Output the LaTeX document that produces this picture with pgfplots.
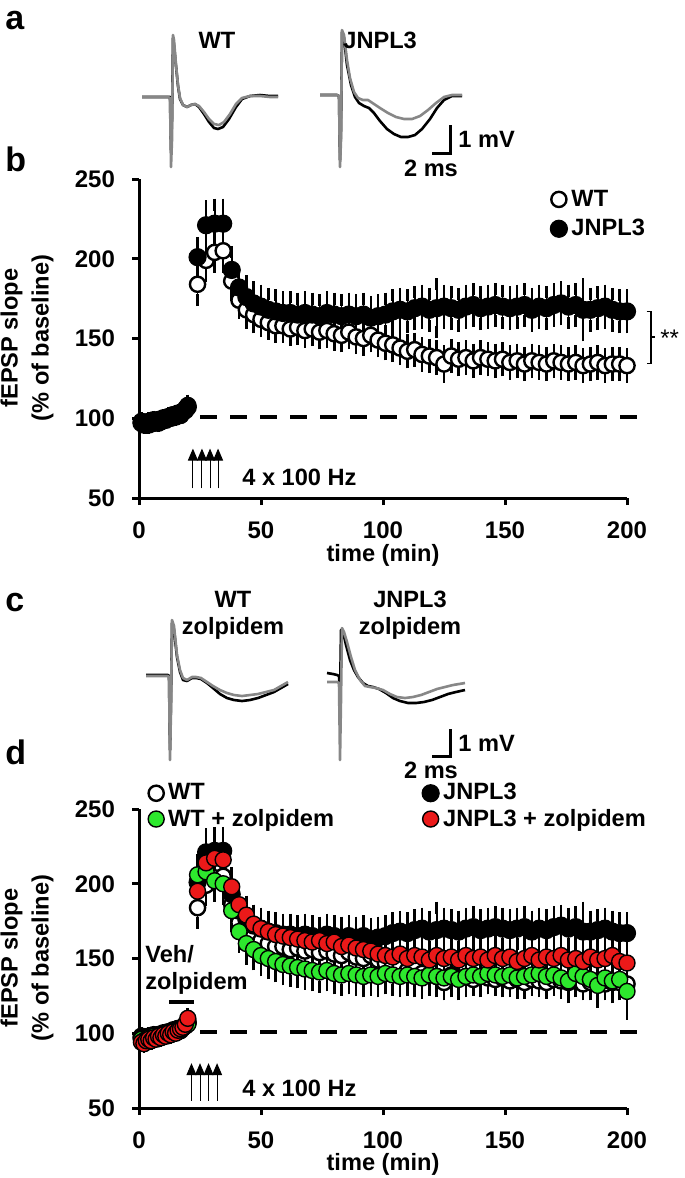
\documentclass[border=0pt]{standalone}
\usepackage{fontspec}
\setmainfont{Liberation Sans}
\usepackage{pgfplots}
\usepackage{pgfplotstable}
\pgfplotsset{compat=1.18}
\usetikzlibrary{arrows.meta}
\definecolor{trgray}{RGB}{135,135,135}
\definecolor{zgreen}{RGB}{45,232,45}
\definecolor{zred}{RGB}{235,25,25}
\newcommand{\lbl}{\fontsize{11.8}{13}\selectfont\bfseries}

% WT (time min, fEPSP % baseline, SEM)
\pgfplotstableread[row sep=\\]{
x y e\\
1 98 2\\ 2 97 2\\ 3 96 2\\ 4 98 2\\ 5 97 2\\ 6 99 2\\ 7 98 2\\ 8 97 2\\ 9 99 2\\ 10 100 2\\
11 99 2\\ 12 101 2\\ 13 100 2\\ 14 102 2\\ 15 101 2\\ 16 103 2\\ 17 102 2\\ 18 104 2\\ 19 106 3\\ 20 108 3\\
24 184 10\\ 27.5 199 10\\ 31 204 9\\ 34.5 205 10\\
38 186 9\\ 41 174 8\\ 44 168 8\\ 47 165 8\\ 50 162 7\\ 53 160 7\\ 56 158 7\\ 59 158 7\\ 62 156 7\\ 65 157 7\\
68 155 7\\ 71 156 7\\ 74 154 7\\ 77 155 7\\ 80 153 7\\ 83 152 7\\ 86 154 7\\ 89 151 7\\ 92 150 7\\ 95 152 7\\
98 149 7\\ 101 147 7\\ 104 146 7\\ 107 144 7\\ 110 142 7\\ 113 143 7\\ 116 140 7\\ 119 139 7\\ 122 138 7\\ 125 134 8\\
128 139 7\\ 131 137 7\\ 134 138 7\\ 137 136 7\\ 140 138 7\\ 143 137 7\\ 146 136 7\\ 149 137 7\\ 152 135 7\\ 155 136 7\\
158 134 7\\ 161 136 7\\ 164 135 7\\ 167 134 7\\ 170 136 7\\ 173 135 7\\ 176 134 7\\ 179 135 7\\ 182 133 7\\ 185 134 7\\
188 135 7\\ 191 133 7\\ 194 134 7\\ 197 134 7\\ 200 133 7\\
}\wt

% JNPL3
\pgfplotstableread[row sep=\\]{
x y e\\
1 97 2\\ 2 96 2\\ 3 97 2\\ 4 96 2\\ 5 98 2\\ 6 97 2\\ 7 98 2\\ 8 99 2\\ 9 98 2\\ 10 100 2\\
11 99 2\\ 12 100 2\\ 13 101 2\\ 14 102 2\\ 15 101 2\\ 16 103 2\\ 17 102 2\\ 18 104 2\\ 19 105 3\\ 20 107 3\\
24 201 9\\ 27.5 221 12\\ 31 222 12\\ 34.5 222 12\\
38 193 11\\ 41 182 10\\ 44 176 10\\ 47 172 10\\ 50 170 10\\ 53 168 10\\ 56 167 10\\ 59 166 10\\ 62 166 10\\ 65 165 10\\
68 166 10\\ 71 165 10\\ 74 164 10\\ 77 166 10\\ 80 165 10\\ 83 164 10\\ 86 165 10\\ 89 164 10\\ 92 165 10\\ 95 163 10\\
98 164 10\\ 101 165 10\\ 104 167 10\\ 107 168 10\\ 110 167 10\\ 113 169 10\\ 116 170 10\\ 119 168 10\\ 122 169 15\\ 125 170 10\\
128 169 10\\ 131 168 10\\ 134 170 10\\ 137 171 10\\ 140 169 10\\ 143 170 10\\ 146 171 10\\ 149 170 10\\ 152 169 10\\ 155 170 10\\
158 171 10\\ 161 168 10\\ 164 170 10\\ 167 169 10\\ 170 171 10\\ 173 172 10\\ 176 170 10\\ 179 171 10\\ 182 168 16\\ 185 168 10\\
188 169 10\\ 191 170 10\\ 194 168 10\\ 197 167 10\\ 200 167 10\\
}\jn

% WT + zolpidem
\pgfplotstableread[row sep=\\]{
x y e\\
1 96 2\\ 2 95 2\\ 3 96 2\\ 4 97 2\\ 5 96 2\\ 6 98 2\\ 7 97 2\\ 8 98 2\\ 9 99 2\\ 10 98 2\\
11 100 2\\ 12 99 2\\ 13 101 2\\ 14 100 2\\ 15 102 2\\ 16 101 2\\ 17 103 2\\ 18 104 2\\ 19 105 3\\ 20 106 3\\
24 206 10\\ 27.5 208 10\\ 31 202 10\\ 34.5 200 10\\
38 182 10\\ 41 168 10\\ 44 160 10\\ 47 156 10\\ 50 152 10\\ 53 150 10\\ 56 148 10\\ 59 146 10\\ 62 145 10\\ 65 144 10\\
68 143 10\\ 71 142 10\\ 74 141 10\\ 77 142 10\\ 80 140 10\\ 83 139 10\\ 86 140 10\\ 89 139 10\\ 92 138 10\\ 95 139 10\\
98 138 10\\ 101 140 10\\ 104 139 10\\ 107 138 10\\ 110 139 10\\ 113 138 10\\ 116 137 10\\ 119 139 10\\ 122 138 10\\ 125 137 10\\
128 138 10\\ 131 136 10\\ 134 138 10\\ 137 139 10\\ 140 138 10\\ 143 140 10\\ 146 139 10\\ 149 138 10\\ 152 139 10\\ 155 137 10\\
158 138 10\\ 161 139 10\\ 164 140 10\\ 167 138 10\\ 170 139 10\\ 173 137 10\\ 176 135 11\\ 179 140 10\\ 182 138 10\\ 185 136 10\\
188 132 11\\ 191 137 10\\ 194 135 11\\ 197 136 10\\ 200 128 15\\
}\wtz

% JNPL3 + zolpidem
\pgfplotstableread[row sep=\\]{
x y e\\
1 94 2\\ 2 93 2\\ 3 95 2\\ 4 96 2\\ 5 95 2\\ 6 97 2\\ 7 96 2\\ 8 98 2\\ 9 97 2\\ 10 99 2\\
11 98 2\\ 12 100 2\\ 13 99 2\\ 14 101 2\\ 15 100 2\\ 16 102 2\\ 17 103 2\\ 18 104 2\\ 19 106 3\\ 20 110 3\\
24 195 10\\ 27.5 214 10\\ 31 217 10\\ 34.5 216 10\\
38 198 9\\ 41 186 9\\ 44 179 9\\ 47 173 9\\ 50 170 9\\ 53 168 9\\ 56 166 9\\ 59 165 9\\ 62 164 9\\ 65 163 9\\
68 162 9\\ 71 161 9\\ 74 162 9\\ 77 160 9\\ 80 161 9\\ 83 158 9\\ 86 159 9\\ 89 157 9\\ 92 156 9\\ 95 155 9\\
98 153 9\\ 101 152 9\\ 104 151 9\\ 107 153 9\\ 110 150 9\\ 113 152 9\\ 116 151 9\\ 119 149 9\\ 122 152 9\\ 125 150 9\\
128 151 9\\ 131 149 9\\ 134 152 9\\ 137 150 9\\ 140 151 9\\ 143 149 9\\ 146 152 9\\ 149 150 9\\ 152 151 9\\ 155 148 9\\
158 150 9\\ 161 152 9\\ 164 149 9\\ 167 151 9\\ 170 150 9\\ 173 152 9\\ 176 149 9\\ 179 150 9\\ 182 148 9\\ 185 151 9\\
188 149 9\\ 191 150 9\\ 194 152 9\\ 197 148 9\\ 200 147 9\\
}\jnz

\tikzset{
 wtst/.style={mark=*, mark size=3.8pt, mark options={fill=white, draw=black, line width=1.2pt}},
 jnst/.style={mark=*, mark size=4.3pt, mark options={fill=black, draw=black, line width=0.5pt}},
 grst/.style={mark=*, mark size=4.0pt, mark options={fill=zgreen, draw=black, line width=0.7pt}},
 rdst/.style={mark=*, mark size=4.0pt, mark options={fill=zred, draw=black, line width=0.7pt}},
 stimarrow/.style={line width=0.5pt, -{Triangle[length=6pt,width=5pt]}},
}
\pgfplotsset{
 ltp/.style={
  scale only axis, width=244pt, xmin=0, xmax=200, ymin=50, ymax=250,
  enlargelimits=false, clip=false,
  axis lines=left, axis line style={-, line width=1.5pt},
  xtick={0,50,...,200}, ytick={50,100,...,250},
  tick align=outside, major tick length=3.5pt, tick style={line width=1.5pt, black},
  tick label style={font=\fontsize{12}{13}\selectfont\bfseries}, /pgf/number format/assume math mode=true,
  yticklabel style={xshift=-5pt}, xticklabel style={yshift=-5pt},
  legend cell align=left,
  legend image code/.code={\draw[##1] plot coordinates {(0pt,0pt)};},
 },
 eb/.style={error bars/y dir=both, error bars/y explicit, error bars/error mark=-,
  error bars/error bar style={line width=0.9pt, black},
  error bars/error mark options={line width=1.3pt, mark size=3pt, black}},
}

\begin{document}
\begin{tikzpicture}
\useasboundingbox (0,0) rectangle (342.5pt,-589pt);

% ---------- overlay: traces, panel letters, labels ----------
\begin{axis}[at={(0pt,0pt)}, anchor=north west, scale only axis, width=342.5pt, height=589pt,
  xmin=0, xmax=685, ymin=0, ymax=1178, y dir=reverse, hide axis, clip=false, enlargelimits=false]
% panel a, WT
\addplot[black, line width=1.3pt, line join=round] coordinates {(142,97)(168,97)(170,97)(171,150)(172,120)(173,38)(174,45)(176,66)(178,86)(180,99)(183,105)(187,107)(191,105)(195,104)(199,107)(204,114)(209,122)(214,128)(218,129)(223,127)(229,119)(236,107)(242,99)(250,96)(260,95)(270,96)(278,96)};
\addplot[trgray, line width=1.3pt, line join=round] coordinates {(142,97)(168,97)(170,98)(171,167)(172,140)(173,35)(174,40)(176,65)(178,85)(180,98)(183,105)(187,107)(191,105)(195,104)(199,106)(204,112)(209,119)(214,124)(219,125)(224,122)(230,114)(236,104)(242,98)(250,96)(260,96)(270,97)(278,97)};
% panel a, JNPL3
\addplot[black, line width=1.3pt, line join=round] coordinates {(320,95)(337,95)(339,96)(340,160)(341,130)(342,32)(344,38)(347,65)(351,85)(355,97)(359,103)(364,106)(369,108)(374,113)(380,121)(387,129)(394,134)(401,137)(408,137)(415,135)(422,129)(430,119)(437,108)(444,100)(452,96)(462,96)};
\addplot[trgray, line width=1.3pt, line join=round] coordinates {(320,95)(337,95)(339,96)(340,167)(341,140)(342,30)(344,35)(347,60)(350,78)(354,92)(358,98)(363,100)(368,100)(374,104)(380,108)(388,113)(396,117)(404,119)(412,119)(420,116)(428,110)(436,103)(444,97)(452,95)(462,95)};
% panel c, WT zolpidem
\addplot[black, line width=1.3pt, line join=round] coordinates {(146,675)(168,675)(169,676)(170,750)(171,700)(172,623)(174,630)(177,657)(180,672)(183,680)(187,681)(192,678)(196,678)(201,679)(207,683)(213,688)(220,694)(227,698)(234,700)(242,701)(250,700)(258,698)(266,695)(274,692)(281,688)(288,684)};
\addplot[trgray, line width=1.3pt, line join=round] coordinates {(146,676)(168,676)(169,677)(170,760)(171,710)(172,620)(174,626)(177,655)(180,670)(183,678)(187,680)(192,677)(196,677)(201,678)(207,682)(213,686)(220,690)(227,693)(234,695)(242,696)(250,695)(258,694)(266,692)(274,690)(281,686)(288,682)};
% panel c, JNPL3 zolpidem
\addplot[black, line width=1.3pt, line join=round] coordinates {(327,673)(333,674)(337,675)(339,676)(340,700)(341,630)(343,632)(346,645)(350,660)(354,670)(358,677)(363,683)(368,686)(373,687)(379,689)(386,693)(393,698)(400,701)(408,703)(416,703)(424,702)(432,700)(440,697)(448,694)(456,692)(465,690)};
\addplot[trgray, line width=1.3pt, line join=round] coordinates {(327,682)(337,682)(339,683)(340,760)(341,700)(342,628)(344,632)(347,642)(351,657)(355,670)(360,680)(365,686)(370,687)(376,688)(383,690)(390,694)(397,697)(405,698)(413,697)(421,695)(429,692)(437,689)(445,687)(453,685)(465,683)};
% scale bars
\draw[line width=1.5pt] (axis cs:450,125) -- (axis cs:450,153) -- (axis cs:432,153);
\node[anchor=west, inner sep=0pt, font=\lbl] at (axis cs:458,139) {1 mV};
\node[anchor=base, inner sep=0pt, font=\lbl] at (axis cs:431,176) {2 ms};
\draw[line width=1.5pt] (axis cs:450,729) -- (axis cs:450,756) -- (axis cs:432,756);
\node[anchor=west, inner sep=0pt, font=\lbl] at (axis cs:458,743) {1 mV};
\node[anchor=base, inner sep=0pt, font=\lbl] at (axis cs:431,778) {2 ms};
% panel letters
\node[anchor=base west, inner sep=0pt, font=\fontsize{17}{18}\selectfont\bfseries] at (axis cs:5,29) {a};
\node[anchor=base west, inner sep=0pt, font=\fontsize{17}{18}\selectfont\bfseries] at (axis cs:5,171) {b};
\node[anchor=base west, inner sep=0pt, font=\fontsize{17}{18}\selectfont\bfseries] at (axis cs:5,611) {c};
\node[anchor=base west, inner sep=0pt, font=\fontsize{17}{18}\selectfont\bfseries] at (axis cs:5,764) {d};
% trace labels
\node[anchor=base, inner sep=0pt, font=\lbl] at (axis cs:217,48) {WT};
\node[anchor=base west, inner sep=0pt, font=\lbl] at (axis cs:343,48) {JNPL3};
\node[anchor=base, inner sep=0pt, font=\lbl] at (axis cs:233,607) {WT};
\node[anchor=base, inner sep=0pt, font=\lbl] at (axis cs:233,634) {zolpidem};
\node[anchor=base, inner sep=0pt, font=\lbl] at (axis cs:410,607) {JNPL3};
\node[anchor=base, inner sep=0pt, font=\lbl] at (axis cs:410,634) {zolpidem};
% axis titles
\node[rotate=90, align=center, font=\fontsize{11.8}{15.5}\selectfont\bfseries] at (axis cs:27,338) {fEPSP slope\\(\% of baseline)};
\node[rotate=90, align=center, font=\fontsize{11.8}{15.5}\selectfont\bfseries] at (axis cs:27,958) {fEPSP slope\\(\% of baseline)};
\node[font=\lbl] at (axis cs:383,555) {time (min)};
\node[font=\lbl] at (axis cs:383,1164) {time (min)};
\node[anchor=base west, inner sep=0pt, font=\lbl] at (axis cs:145,962) {Veh/};
\node[anchor=base west, inner sep=0pt, font=\lbl] at (axis cs:145,989) {zolpidem};
\end{axis}

% ---------- panel b ----------
\begin{axis}[ltp, at={(69.5pt,-249pt)}, anchor=south west, height=159.5pt,
  legend style={at={(0.842,0.98)}, anchor=north west, draw=none, fill=none, font=\lbl, row sep=1pt, inner sep=0pt}]
\addlegendimage{only marks, wtst}\addlegendentry{WT}
\addlegendimage{only marks, jnst}\addlegendentry{JNPL3}
\addplot[black, line width=2pt, dash pattern=on 8.5pt off 6.5pt, forget plot] coordinates {(25,101) (206,101)};
\addplot[only marks, wtst, forget plot, eb] table[x=x, y=y, y error=e] {\wt};
\addplot[only marks, jnst, forget plot, eb] table[x=x, y=y, y error=e] {\jn};
\draw[stimarrow] (axis cs:22.1,56) -- (axis cs:22.1,81);
\draw[stimarrow] (axis cs:25.8,56) -- (axis cs:25.8,81);
\draw[stimarrow] (axis cs:29.1,56) -- (axis cs:29.1,81);
\draw[stimarrow] (axis cs:32.4,56) -- (axis cs:32.4,81);
\node[anchor=west, font=\lbl, inner sep=0pt] at (axis cs:42.2,63) {4 x 100 Hz};
\draw[line width=0.7pt] (axis cs:208,167) -- (axis cs:209.8,167) -- (axis cs:209.8,134.5) -- (axis cs:208,134.5);
\draw[line width=0.7pt] (axis cs:209.8,151) -- (axis cs:211.5,151);
\node[anchor=west, inner sep=0pt, font=\fontsize{12}{13}\selectfont] at (axis cs:213.5,150) {**};
\end{axis}

% ---------- panel d ----------
\begin{axis}[ltp, at={(69.5pt,-554pt)}, anchor=south west, height=149.5pt,
  legend columns=2,
  legend style={at={(0.018,1.1)}, anchor=north west, draw=none, fill=none, font=\lbl, row sep=-1pt, inner sep=0pt,
    /tikz/every even column/.append style={column sep=42pt}}]
\addlegendimage{only marks, wtst}\addlegendentry{WT}
\addlegendimage{only marks, jnst}\addlegendentry{JNPL3}
\addlegendimage{only marks, grst}\addlegendentry{WT + zolpidem}
\addlegendimage{only marks, rdst}\addlegendentry{JNPL3 + zolpidem}
\addplot[black, line width=2pt, dash pattern=on 8.5pt off 6.5pt, forget plot] coordinates {(25,101) (206,101)};
\addplot[only marks, wtst, forget plot, eb] table[x=x, y=y, y error=e] {\wt};
\addplot[only marks, jnst, forget plot, eb] table[x=x, y=y, y error=e] {\jn};
\addplot[only marks, grst, forget plot, eb] table[x=x, y=y, y error=e] {\wtz};
\addplot[only marks, rdst, forget plot, eb] table[x=x, y=y, y error=e] {\jnz};
\draw[line width=2pt] (axis cs:12.3,121) -- (axis cs:22.5,121);
\draw[stimarrow] (axis cs:21.5,55) -- (axis cs:21.5,80);
\draw[stimarrow] (axis cs:25,55) -- (axis cs:25,80);
\draw[stimarrow] (axis cs:28.5,55) -- (axis cs:28.5,80);
\draw[stimarrow] (axis cs:32,55) -- (axis cs:32,80);
\node[anchor=west, font=\lbl, inner sep=0pt] at (axis cs:42.2,63) {4 x 100 Hz};
\end{axis}
\end{tikzpicture}
\end{document}
